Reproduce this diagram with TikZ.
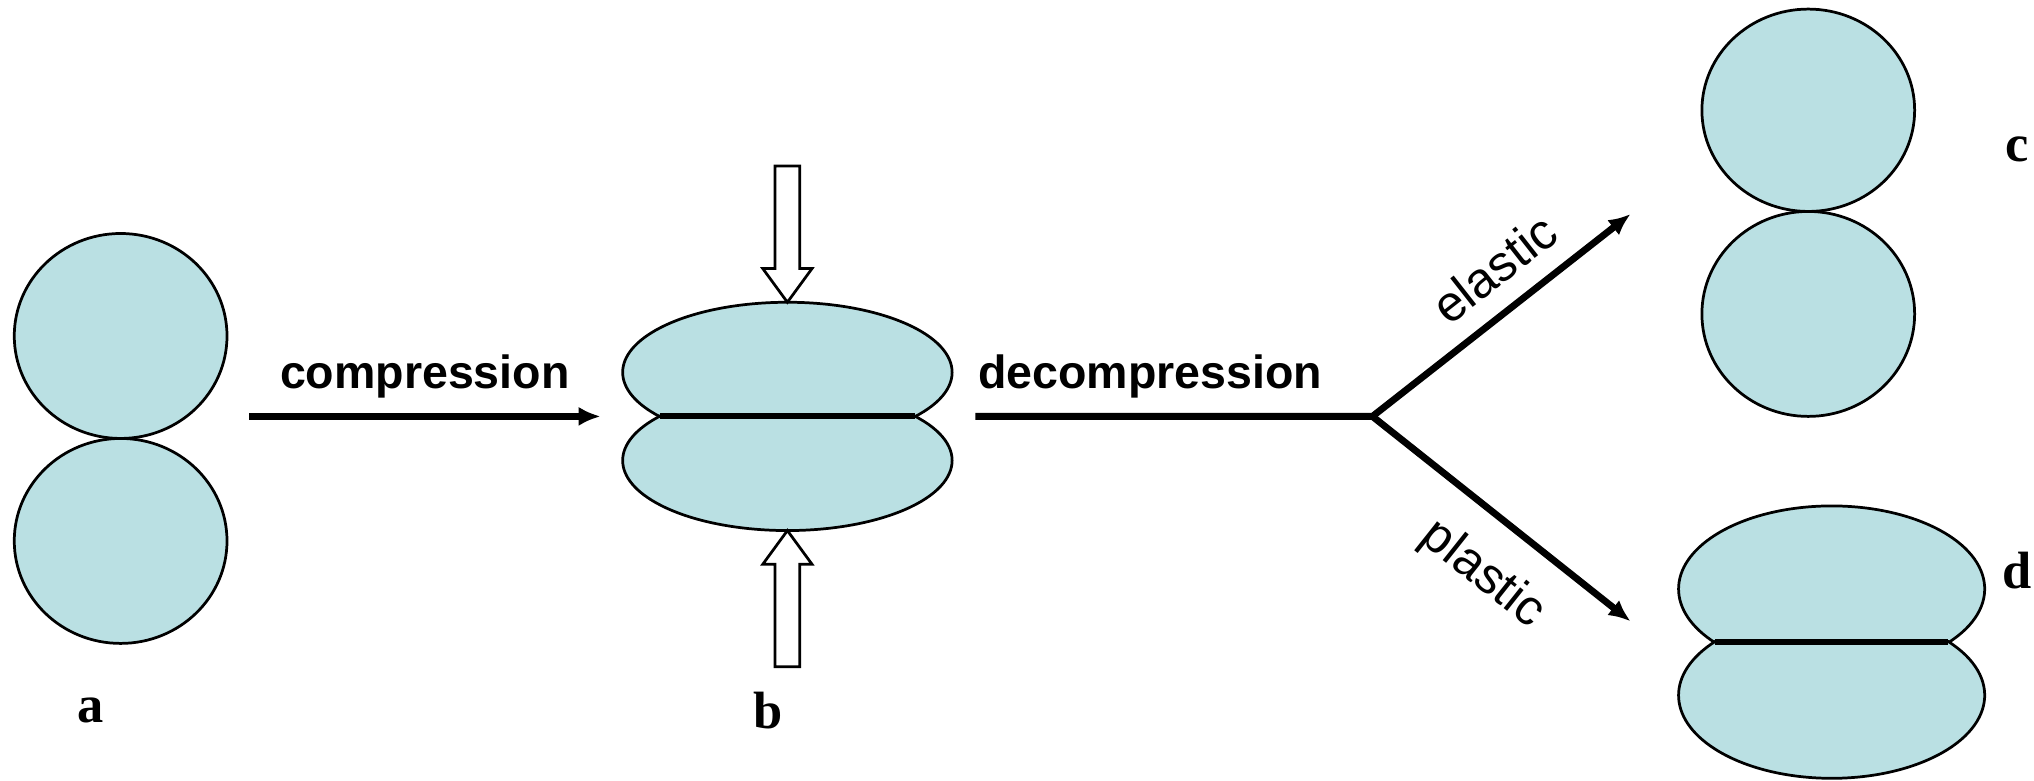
\documentclass[tikz,border=0pt]{standalone}
\usepackage{fontspec}
\setmainfont{Liberation Serif}
\setsansfont{Liberation Sans}
\usetikzlibrary{arrows.meta,positioning}
\definecolor{grainblue}{RGB}{186,224,227}

\begin{document}
\begin{tikzpicture}[
x=0.01cm, y=0.01cm,
>={Latex[length=4.8pt,width=4.2pt]},
grain/.style = {draw=black, line width=0.6pt, fill=grainblue},
contact/.style = {line width=1.3pt},
path-line/.style = {line width=1.5pt},
step-label/.style = {font=\sffamily\bfseries\fontsize{10.2}{12}\selectfont},
branch-label/.style = {font=\sffamily\fontsize{11}{13}\selectfont, sloped},
stage-label/.style = {font=\rmfamily\bfseries\fontsize{11.5}{13}\selectfont},
press/.pic = {\draw[line width=0.6pt, fill=white] (-9.5,0) -- (-9.5,-79) -- (-19,-79) -- (0,-105) -- (19,-79) -- (9.5,-79) -- (9.5,0) -- cycle;}
]

\useasboundingbox (0,0) rectangle (1568,602);

% a: two grains just touching
\draw[grain] (93,343) ellipse [x radius=82, y radius=79];
\draw[grain] (93,185) ellipse [x radius=82, y radius=79];

% b: grains flattened under load
\draw[grain] (607,315) ++(-39.8:127 and 54) arc [start angle=-39.8, end angle=219.8, x radius=127, y radius=54] -- cycle;
\draw[grain] (607,247) ++(39.8:127 and 54) arc [start angle=39.8, end angle=-219.8, x radius=127, y radius=54] -- cycle;
\draw[contact] (509,281) -- (705,281);
\pic at (607,474) {press};
\pic[rotate=180] at (607,88) {press};

% c: elastic recovery
\draw[grain] (1394,517) ellipse [x radius=82, y radius=78];
\draw[grain] (1394,360) ellipse [x radius=82, y radius=79];

% d: plastic, contact stays flat
\draw[grain] (1412,148) ++(-40.5:118 and 64) arc [start angle=-40.5, end angle=220.5, x radius=118, y radius=64] -- cycle;
\draw[grain] (1412,66) ++(40.5:118 and 64) arc [start angle=40.5, end angle=-220.5, x radius=118, y radius=64] -- cycle;
\draw[contact] (1322,107) -- (1502,107);

% labels
\node[stage-label] (lbl-a) at (70,54) {a};
\node[stage-label] (lbl-b) at (592,54) {b};
\node[stage-label] (lbl-c) at (1555,487) {c};
\node[stage-label] (lbl-d) at (1555,162) {d};

% arrows
\coordinate (comp-start) at (192,281);
\coordinate (comp-end) at (463,281);
\coordinate (decomp-start) at (752,281);
\coordinate (fork) at (1058,281);
\coordinate (elastic-end) at (1257,437);
\coordinate (plastic-end) at (1257,123);

\draw[->, path-line] (comp-start) -- node[step-label, above] {compression} (comp-end);
\draw[->, path-line] (decomp-start) -- node[step-label, above, pos=0.44] {decompression} (fork)
  -- node[branch-label, above=1pt, pos=0.57] {elastic} (elastic-end);
\draw[->, path-line] (fork) -- node[branch-label, below=3pt, pos=0.56] {plastic} (plastic-end);

\end{tikzpicture}
\end{document}
